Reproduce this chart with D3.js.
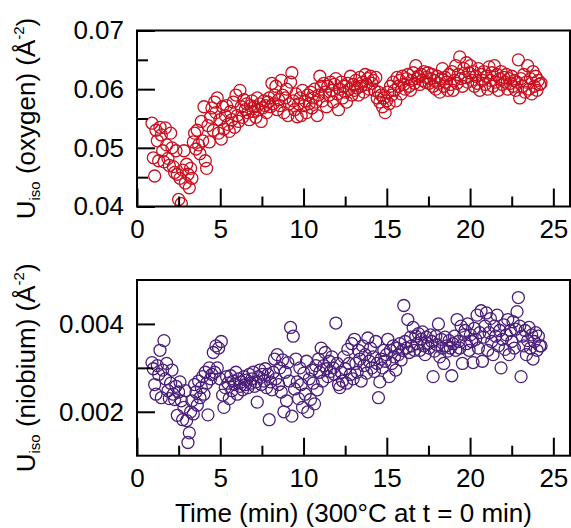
<!DOCTYPE html>
<html>
<head>
<meta charset="utf-8">
<script src="https://cdn.jsdelivr.net/npm/d3@7"></script>
<style>
  body { margin: 0; background: #fff; }
  svg { display: block; font-family: 'Liberation Sans', Arial, Helvetica, sans-serif; }
  .axis-title { font-size: 26px; fill: #000; white-space: pre; }
</style>
</head>
<body>
<svg width="571" height="528"></svg>
<script>
// time (min) shared by both panels
const time = [
  0.90,0.98,1.06,1.14,1.22,1.30,1.38,1.46,1.54,1.62,1.70,1.78,1.86,1.94,2.02,2.10,2.18,2.26,2.34,2.42,2.50,2.58,2.66,2.74,2.82,
  2.90,2.98,3.06,3.14,3.22,3.30,3.38,3.46,3.54,3.62,3.70,3.78,3.86,3.94,4.02,4.10,4.18,4.26,4.34,4.42,4.50,4.58,4.66,4.74,4.82,
  4.90,4.98,5.06,5.14,5.22,5.30,5.38,5.46,5.54,5.62,5.70,5.78,5.86,5.94,6.02,6.10,6.18,6.26,6.34,6.42,6.50,6.58,6.66,6.74,6.82,
  6.90,6.98,7.06,7.14,7.22,7.30,7.38,7.46,7.54,7.62,7.70,7.78,7.86,7.94,8.02,8.10,8.18,8.26,8.34,8.42,8.50,8.58,8.66,8.74,8.82,
  8.90,8.98,9.06,9.14,9.22,9.30,9.38,9.46,9.54,9.62,9.70,9.78,9.86,9.94,10.02,10.10,10.18,10.26,10.34,10.42,10.50,10.58,10.66,10.74,10.82,
  10.90,10.98,11.06,11.14,11.22,11.30,11.38,11.46,11.54,11.62,11.70,11.78,11.86,11.94,12.02,12.10,12.18,12.26,12.34,12.42,12.50,12.58,12.66,12.74,12.82,
  12.90,12.98,13.06,13.14,13.22,13.30,13.38,13.46,13.54,13.62,13.70,13.78,13.86,13.94,14.02,14.10,14.18,14.26,14.34,14.42,14.50,14.58,14.66,14.74,14.82,
  14.90,14.98,15.06,15.14,15.22,15.30,15.38,15.46,15.54,15.62,15.70,15.78,15.86,15.94,16.02,16.10,16.18,16.26,16.34,16.42,16.50,16.58,16.66,16.74,16.82,
  16.90,16.98,17.06,17.14,17.22,17.30,17.38,17.46,17.54,17.62,17.70,17.78,17.86,17.94,18.02,18.10,18.18,18.26,18.34,18.42,18.50,18.58,18.66,18.74,18.82,
  18.90,18.98,19.06,19.14,19.22,19.30,19.38,19.46,19.54,19.62,19.70,19.78,19.86,19.94,20.02,20.10,20.18,20.26,20.34,20.42,20.50,20.58,20.66,20.74,20.82,
  20.90,20.98,21.06,21.14,21.22,21.30,21.38,21.46,21.54,21.62,21.70,21.78,21.86,21.94,22.02,22.10,22.18,22.26,22.34,22.42,22.50,22.58,22.66,22.74,22.82,
  22.90,22.98,23.06,23.14,23.22,23.30,23.38,23.46,23.54,23.62,23.70,23.78,23.86,23.94,24.02,24.10,24.18,24.26
];

// Uiso oxygen (Å^-2)
const oxygen = [
  .0542,.0483,.0452,.0530,.0512,.0478,.0535,.0522,.0495,.0476,.0534,.0505,.0482,.0470,.0525,.0500,.0468,.0458,.0495,.0455,.0412,.0448,.0405,.0462,.0495,
  .0440,.0472,.0455,.0432,.0465,.0448,.0510,.0525,.0498,.0530,.0505,.0490,.0545,.0512,.0570,.0478,.0465,.0538,.0510,.0552,.0568,.0530,.0578,.0560,.0585,
  .0525,.0548,.0515,.0570,.0532,.0555,.0572,.0540,.0528,.0562,.0548,.0578,.0535,.0590,.0555,.0545,.0598,.0570,.0552,.0582,.0565,.0575,.0560,.0548,.0572,
  .0580,.0562,.0570,.0552,.0585,.0565,.0575,.0545,.0568,.0580,.0572,.0560,.0578,.0585,.0570,.0610,.0575,.0590,.0605,.0565,.0582,.0572,.0615,.0590,.0560,
  .0585,.0600,.0555,.0575,.0612,.0628,.0580,.0565,.0592,.0553,.0575,.0585,.0555,.0598,.0572,.0580,.0560,.0590,.0575,.0595,.0568,.0585,.0600,.0578,.0555,
  .0590,.0622,.0605,.0580,.0610,.0595,.0570,.0605,.0590,.0612,.0598,.0578,.0608,.0618,.0592,.0565,.0600,.0612,.0585,.0605,.0595,.0578,.0610,.0600,.0622,
  .0590,.0608,.0598,.0615,.0602,.0590,.0620,.0605,.0612,.0595,.0625,.0608,.0618,.0600,.0622,.0610,.0615,.0598,.0620,.0585,.0595,.0578,.0590,.0570,.0585,
  .0560,.0580,.0595,.0575,.0605,.0590,.0612,.0598,.0580,.0620,.0605,.0615,.0592,.0622,.0608,.0600,.0618,.0625,.0605,.0598,.0615,.0628,.0610,.0640,.0618,
  .0622,.0608,.0625,.0615,.0630,.0612,.0620,.0628,.0610,.0618,.0625,.0605,.0615,.0600,.0622,.0610,.0595,.0618,.0635,.0605,.0620,.0612,.0598,.0625,.0608,
  .0630,.0598,.0615,.0640,.0610,.0625,.0655,.0618,.0605,.0635,.0620,.0645,.0612,.0628,.0640,.0615,.0630,.0605,.0622,.0610,.0635,.0598,.0625,.0615,.0630,
  .0608,.0622,.0600,.0638,.0615,.0628,.0605,.0640,.0612,.0625,.0598,.0618,.0630,.0608,.0620,.0612,.0625,.0600,.0618,.0610,.0622,.0605,.0615,.0598,.0612,
  .0650,.0585,.0618,.0605,.0625,.0595,.0612,.0640,.0600,.0618,.0592,.0630,.0605,.0622,.0598,.0615,.0608,.0610
];

// Uiso niobium (Å^-2)
const niobium = [
  .00312,.00298,.00262,.00240,.00305,.00285,.00340,.00232,.00295,.00362,.00275,.00310,.00248,.00230,.00265,.00295,.00240,.00228,.00258,.00192,.00245,.00268,.00225,.00182,.00210,
  .00248,.00180,.00130,.00152,.00200,.00225,.00195,.00262,.00245,.00215,.00270,.00232,.00255,.00280,.00240,.00290,.00265,.00193,.00300,.00275,.00285,.00335,.00290,.00350,.00300,
  .00345,.00275,.00360,.00238,.00210,.00255,.00280,.00265,.00230,.00282,.00248,.00270,.00262,.00290,.00240,.00275,.00258,.00268,.00250,.00280,.00262,.00272,.00255,.00285,.00265,
  .00275,.00290,.00258,.00268,.00222,.00280,.00295,.00262,.00285,.00270,.00298,.00255,.00285,.00182,.00268,.00250,.00290,.00320,.00275,.00330,.00262,.00300,.00245,.00318,.00200,
  .00290,.00225,.00312,.00270,.00392,.00190,.00372,.00252,.00320,.00268,.00230,.00300,.00262,.00210,.00288,.00240,.00315,.00200,.00275,.00228,.00295,.00265,.00218,.00305,.00250,
  .00320,.00290,.00345,.00270,.00305,.00335,.00298,.00280,.00315,.00292,.00325,.00300,.00285,.00402,.00310,.00262,.00255,.00290,.00270,.00325,.00298,.00265,.00342,.00310,.00285,
  .00355,.00275,.00365,.00310,.00290,.00340,.00320,.00270,.00350,.00305,.00330,.00288,.00368,.00315,.00345,.00300,.00325,.00292,.00360,.00310,.00232,.00268,.00320,.00300,.00340,
  .00315,.00330,.00365,.00280,.00340,.00310,.00350,.00325,.00295,.00345,.00330,.00355,.00318,.00340,.00442,.00360,.00345,.00410,.00335,.00370,.00350,.00392,.00340,.00372,.00355,
  .00378,.00340,.00365,.00382,.00350,.00330,.00370,.00355,.00345,.00375,.00360,.00280,.00338,.00372,.00352,.00400,.00325,.00365,.00345,.00310,.00370,.00350,.00338,.00362,.00345,
  .00282,.00355,.00372,.00340,.00410,.00360,.00345,.00395,.00310,.00375,.00385,.00355,.00400,.00340,.00375,.00360,.00312,.00390,.00365,.00420,.00345,.00380,.00430,.00315,.00370,
  .00395,.00425,.00340,.00380,.00412,.00360,.00330,.00395,.00372,.00420,.00350,.00385,.00300,.00365,.00398,.00342,.00375,.00410,.00330,.00385,.00360,.00405,.00345,.00388,.00428,
  .00460,.00395,.00280,.00372,.00350,.00385,.00330,.00362,.00392,.00345,.00375,.00320,.00360,.00380,.00340,.00372,.00350,.00350
];

const xDomain = [0, 26];
const xTicks = [0, 5, 10, 15, 20, 25];
const xTickLabels = ['0', '5', '10', '15', '20', '25'];
const xMinorTicks = [2.5, 7.5, 12.5, 17.5, 22.5];
const xAxisLabel = 'Time (min) (300°C at t = 0 min)';

const oxyDomain = [0.04, 0.07];
const oxyTicks = [0.04, 0.05, 0.06, 0.07];
const oxyTickLabels = ['0.04', '0.05', '0.06', '0.07'];
const oxyMinorTicks = [0.045, 0.055, 0.065];

const nbDomain = [0.001, 0.005];
const nbTicks = [0.002, 0.004];
const nbTickLabels = ['0.002', '0.004'];
const nbMinorTicks = [0.003];

const svg = d3.select('svg');
const left = 137, right = 570;

const xScale = d3.scaleLinear().domain(xDomain).range([left, right]);

const styleAxis = g => {
  g.select('.domain').remove();
  g.selectAll('.tick line').attr('stroke', '#000').attr('stroke-width', 2);
  g.selectAll('.tick text')
    .attr('fill', '#000')
    .style('font-size', '26px')
    .style('font-family', "'Liberation Sans', Arial, sans-serif");
};

const drawPanel = (p, idx) => {
  const yScale = d3.scaleLinear().domain(p.domain).range([p.bottom, p.top]);

  svg.append('clipPath').attr('id', 'clip' + idx)
    .append('rect')
    .attr('x', left).attr('y', p.top)
    .attr('width', right - left).attr('height', p.bottom - p.top);

  svg.append('g')
    .attr('clip-path', `url(#clip${idx})`)
    .selectAll('circle').data(time)
    .enter().append('circle')
      .attr('cx', d => xScale(d))
      .attr('cy', (d, i) => yScale(p.values[i]))
      .attr('r', 6)
      .attr('fill', 'none')
      .attr('stroke', p.color)
      .attr('stroke-width', 1.3);

  // x ticks (inward)
  svg.append('g')
    .attr('transform', `translate(0,${p.bottom})`)
    .call(d3.axisBottom(xScale).tickValues(xTicks).tickSize(-18).tickPadding(13)
      .tickFormat((d, i) => xTickLabels[i]))
    .call(styleAxis);
  svg.append('g')
    .attr('transform', `translate(0,${p.bottom})`)
    .call(d3.axisBottom(xScale).tickValues(xMinorTicks).tickSize(-10).tickFormat(''))
    .call(styleAxis);

  // y ticks (inward)
  svg.append('g')
    .attr('transform', `translate(${left},0)`)
    .call(d3.axisLeft(yScale).tickValues(p.ticks).tickSize(-18).tickPadding(13)
      .tickFormat((d, i) => p.tickLabels[i]))
    .call(styleAxis);
  svg.append('g')
    .attr('transform', `translate(${left},0)`)
    .call(d3.axisLeft(yScale).tickValues(p.minorTicks).tickSize(-p.minorSize).tickFormat(''))
    .call(styleAxis);

  svg.append('rect')
    .attr('x', left).attr('y', p.top)
    .attr('width', right - left).attr('height', p.bottom - p.top)
    .attr('fill', 'none')
    .attr('stroke', '#000')
    .attr('stroke-width', 2);

  // y title: U_iso (name) (Å^-2)
  const t = svg.append('text')
    .attr('class', 'axis-title')
    .attr('text-anchor', 'middle')
    .attr('transform', `translate(35,${(p.top + p.bottom) / 2}) rotate(-90)`);
  t.append('tspan').text('U');
  t.append('tspan').attr('dy', 5).style('font-size', '15px').text('iso');
  t.append('tspan').attr('dy', -5).text(` (${p.name}) (Å`);
  t.append('tspan').attr('dy', -11).style('font-size', '15px').text('-2');
  t.append('tspan').attr('dy', 11).text(')');
};

drawPanel({
  name: 'oxygen', values: oxygen, domain: oxyDomain, top: 30.5, bottom: 206.5,
  ticks: oxyTicks, tickLabels: oxyTickLabels, minorTicks: oxyMinorTicks, minorSize: 11,
  color: '#c8101e'
}, 0);

drawPanel({
  name: 'niobium', values: niobium, domain: nbDomain, top: 280, bottom: 455.7,
  ticks: nbTicks, tickLabels: nbTickLabels, minorTicks: nbMinorTicks, minorSize: 16,
  color: '#4b1f7a'
}, 1);

svg.append('text')
  .attr('class', 'axis-title')
  .attr('x', (left + right) / 2)
  .attr('y', 522)
  .attr('text-anchor', 'middle')
  .text(xAxisLabel);
</script>
</body>
</html>
